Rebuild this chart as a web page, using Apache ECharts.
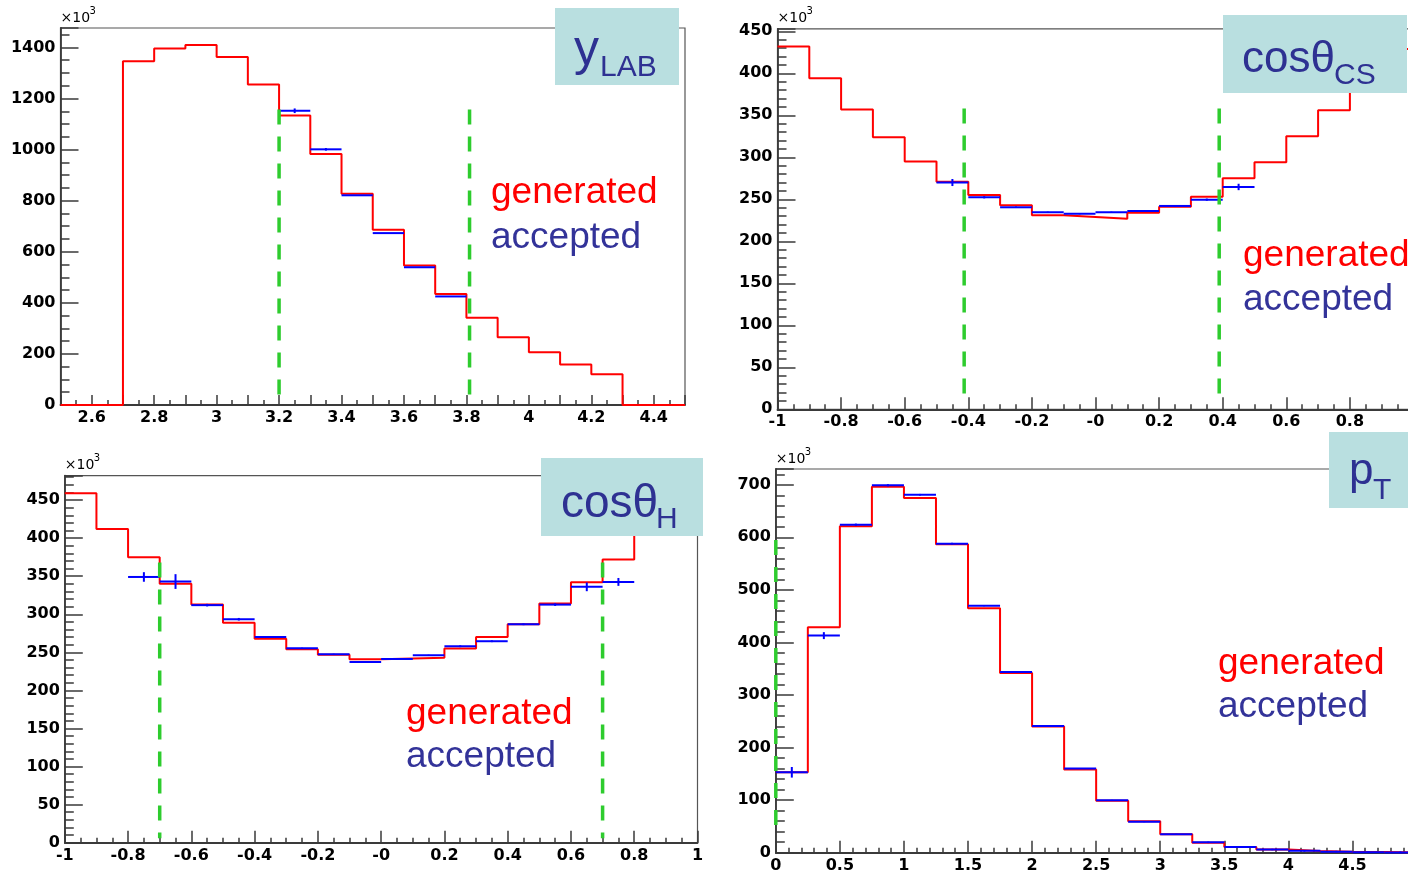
<!DOCTYPE html>
<html><head><meta charset="utf-8">
<script src="https://cdn.jsdelivr.net/npm/echarts@6/dist/echarts.min.js"></script>
<style>html,body{margin:0;padding:0;background:#fff}#c{width:1408px;height:873px}</style>
</head><body><div id="c"></div>
<script>
// ---------- DATA ----------
// Panel 1: y_LAB  (bins of 0.1 from 2.5)
const yLabStart = 2.5, yLabWidth = 0.1;
const yLabGenerated = [0, 0, 1346, 1396, 1409, 1362, 1255, 1133, 983, 827, 686, 546, 435, 342, 265, 207, 159, 120, 0, 0];
const yLabAccStart = 3.2;
const yLabAccepted = [1152, 1001, 821, 673, 539, 425];
const yLabAccErr = [13, 9, 5, 4, 4, 4];
const yLabCuts = [3.2, 3.81];
const yLabCutSpan = [18, 1157];

// Panel 2: cos theta CS (bins of 0.1 from -1)
const csStart = -1, csWidth = 0.1;
const csGenerated = [432, 394, 357, 324, 295, 271, 255, 243, 231, 229, 227, 234, 241, 253, 275, 294, 325, 356, 392, 429];
const csAccStart = -0.5;
const csAccepted = [270, 252.4, 240.5, 234.5, 232.9, 234.5, 236.1, 242.1, 249.6, 264.7];
const csAccErr = [5.4, 2.5, 2, 2, 2, 2, 2, 2, 2.5, 5];
const csCuts = [-0.413, 0.389];
const csCutSpan = [9, 358];

// Panel 3: cos theta H (bins of 0.1 from -1)
const hStart = -1, hWidth = 0.1;
const hGenerated = [459, 412, 375, 340, 313, 289, 268, 254, 247, 241, 242, 243, 255, 270, 287, 314, 342, 372, 411, 459];
const hAccStart = -0.8;
const hAccepted = [349, 343, 312, 293.5, 270, 255.4, 247.5, 237.4, 241.3, 246.2, 258, 264.6, 286.9, 312.7, 336, 342.5];
const hAccErr = [7.6, 11, 3, 3, 2.5, 2, 2, 2.5, 2, 2, 2.5, 2.5, 2.5, 3, 7, 6.5];
const hCuts = [-0.7, 0.7];
const hCutSpan = [6, 368];

// Panel 4: pT (bins of 0.25 from 0)
const ptStart = 0, ptWidth = 0.25;
const ptGenerated = [153, 429, 621, 696, 675, 587, 465, 342, 240, 158.5, 99, 60, 35, 19, 10.8, 6.3, 3.2, 1.9, 1.2, 0.6];
const ptAccStart = 0;
const ptAccepted = [153, 413, 624, 699, 681, 588, 470, 344, 241, 160.4, 99.6, 59, 35, 19.7, 10.8, 6, 3.5, 2, 1, 0.6];
const ptAccErr = [12, 8.5, 4, 4, 3.5, 3.5, 3, 2.5, 2, 1.5, 1, 1, 1, 0.5, 0.5, 0.5, 0.3, 0.3, 0.2, 0.2];
const ptCuts = [0];
const ptCutSpan = [35, 595];

// Titles
const titles = [
  { main: 'y', sub: 'LAB' },
  { main: 'cos\u03B8', sub: 'CS' },
  { main: 'cos\u03B8', sub: 'H' },
  { main: 'p', sub: 'T' }
];
const legendGen = 'generated', legendAcc = 'accepted';

// ---------- LAYOUT ----------
const panels = [
  { grid: { left: 60.5, top: 28, width: 624.5, height: 377 }, x: [2.5, 4.5, 0.1, 2], y: [0, 1476, 200, 4],
    gen: [yLabStart, yLabWidth, yLabGenerated], acc: [yLabAccStart, yLabWidth, yLabAccepted, yLabAccErr], cuts: [yLabCuts, yLabCutSpan],
    xfmt: v => { const k = Math.round(v * 10); return k % 2 ? '' : String(k / 10); },
    box: { x: 555, y: 8, w: 124, h: 77 }, mainPos: [574, 51.5, 50], subPos: [600, 67.5, 30],
    legend: [491, 193, 237.5] },
  { grid: { left: 777.5, top: 28.8, width: 636, height: 380.5 }, x: [-1, 1, 0.2, 4], y: [0, 453, 50, 5],
    gen: [csStart, csWidth, csGenerated], acc: [csAccStart, csWidth, csAccepted, csAccErr], cuts: [csCuts, csCutSpan],
    xfmt: v => Math.abs(v) < 1e-9 ? '-0' : String(Math.round(v * 10) / 10),
    box: { x: 1223, y: 15, w: 184, h: 78 }, mainPos: [1242, 60, 44], subPos: [1334, 75.5, 30],
    legend: [1243, 256, 300] },
  { grid: { left: 64.8, top: 475.7, width: 632.7, height: 367 }, x: [-1, 1, 0.2, 4], y: [0, 482, 50, 5],
    gen: [hStart, hWidth, hGenerated], acc: [hAccStart, hWidth, hAccepted, hAccErr], cuts: [hCuts, hCutSpan],
    xfmt: v => Math.abs(v) < 1e-9 ? '-0' : String(Math.round(v * 10) / 10),
    box: { x: 541, y: 458, w: 162, h: 78 }, mainPos: [561, 504.5, 46], subPos: [656, 520, 30],
    legend: [406, 713.5, 756.5] },
  { grid: { left: 775.8, top: 469, width: 640.7, height: 383.7 }, x: [0, 5, 0.5, 5], y: [0, 730, 100, 5],
    gen: [ptStart, ptWidth, ptGenerated], acc: [ptAccStart, ptWidth, ptAccepted, ptAccErr], cuts: [ptCuts, ptCutSpan],
    xfmt: v => String(Math.round(v * 10) / 10),
    box: { x: 1329, y: 432, w: 80, h: 76 }, mainPos: [1349, 472, 44], subPos: [1373, 491, 30],
    legend: [1218, 663.5, 706.5] }
];

const AX_COLOR = '#3a3a3a';
const labelFont = { fontFamily: 'DejaVu Sans', fontWeight: 'bold', fontSize: 16, color: '#000' };

const option = { animation: false, backgroundColor: '#ffffff', grid: [], xAxis: [], yAxis: [], series: [], graphic: [] };

function stepData(start, width, vals) {
  const d = vals.map((v, i) => [start + i * width, v]);
  d.push([start + vals.length * width, vals[vals.length - 1]]);
  return d;
}

panels.forEach((p, i) => {
  option.grid.push(Object.assign({ show: true, borderColor: '#555', borderWidth: 1.2, backgroundColor: 'transparent', containLabel: false, outerBoundsMode: 'none' }, p.grid));
  option.xAxis.push({
    type: 'value', gridIndex: i, min: p.x[0], max: p.x[1], interval: p.x[2],
    axisLine: { show: true, onZero: false, lineStyle: { color: AX_COLOR, width: 1.8 } },
    axisTick: { show: true, inside: true, length: i === 0 ? 10 : 12, lineStyle: { color: AX_COLOR, width: 1.5 } },
    minorTick: { show: true, splitNumber: p.x[3], length: 5, lineStyle: { color: AX_COLOR, width: 1.5 } },
    splitLine: { show: false }, minorSplitLine: { show: false },
    axisLabel: Object.assign({ margin: 5, formatter: p.xfmt, showMinLabel: true, showMaxLabel: true, hideOverlap: false }, labelFont)
  });
  option.yAxis.push({
    type: 'value', gridIndex: i, min: p.y[0], max: p.y[1], interval: p.y[2],
    axisLine: { show: true, onZero: false, lineStyle: { color: AX_COLOR, width: 1.8 } },
    axisTick: { show: true, inside: true, length: 18, lineStyle: { color: AX_COLOR, width: 1.5 } },
    minorTick: { show: true, splitNumber: p.y[3], length: 9, lineStyle: { color: AX_COLOR, width: 1.5 } },
    splitLine: { show: false }, minorSplitLine: { show: false },
    axisLabel: Object.assign({ margin: 5, showMinLabel: true, showMaxLabel: true, hideOverlap: false,
      formatter: v => { const r = v / p.y[2]; return Math.abs(r - Math.round(r)) < 1e-6 ? String(Math.round(v)) : ''; } }, labelFont)
  });
  // generated (red step histogram)
  option.series.push({
    type: 'line', xAxisIndex: i, yAxisIndex: i, step: 'end', symbol: 'none', clip: false, z: 3,
    lineStyle: { color: '#ff0000', width: 2 }, data: stepData(p.gen[0], p.gen[1], p.gen[2])
  });
  // accepted (blue points with x-width and y errors)
  const accData = p.acc[2].map((v, k) => [p.acc[0] + k * p.acc[1], p.acc[0] + (k + 1) * p.acc[1], v, p.acc[3][k]]);
  option.series.push({
    type: 'custom', xAxisIndex: i, yAxisIndex: i, z: 4, clip: false,
    encode: { x: [0, 1], y: 2 },
    data: accData,
    renderItem: (params, api) => {
      const x0 = api.value(0), x1 = api.value(1), y = api.value(2), e = api.value(3);
      const a = api.coord([x0, y]), b = api.coord([x1, y]);
      const c = api.coord([(x0 + x1) / 2, y - e]), d = api.coord([(x0 + x1) / 2, y + e]);
      const st = { stroke: '#0000ff', lineWidth: 2 };
      return { type: 'group', children: [
        { type: 'line', shape: { x1: a[0], y1: a[1], x2: b[0], y2: b[1] }, style: st },
        { type: 'line', shape: { x1: c[0], y1: c[1] - 1, x2: d[0], y2: d[1] + 1 }, style: st }
      ] };
    }
  });
  // cut lines (green dashed)
  p.cuts[0].forEach(cx => {
    option.series.push({
      type: 'line', xAxisIndex: i, yAxisIndex: i, symbol: 'none', clip: false, z: 5,
      lineStyle: { color: '#2ecc2e', width: 3.5, type: [15, 12] },
      data: [[cx, p.cuts[1][1]], [cx, p.cuts[1][0]]]
    });
  });
  // x10^3 labels
  option.graphic.push({ type: 'text', left: p.grid.left, top: p.grid.top - 17, z: 50,
    style: { text: '\u00D710', font: '14px "DejaVu Sans"', fill: '#000' } });
  option.graphic.push({ type: 'text', left: p.grid.left + 29, top: p.grid.top - 22, z: 50,
    style: { text: '3', font: '10px "DejaVu Sans"', fill: '#000' } });
  // title box
  option.graphic.push({ type: 'rect', shape: { x: p.box.x, y: p.box.y, width: p.box.w, height: p.box.h }, z: 60,
    style: { fill: '#b9dfe0' } });
  option.graphic.push({ type: 'text', x: p.mainPos[0], y: p.mainPos[1], z: 61,
    style: { text: titles[i].main, fontFamily: 'Liberation Sans', fontSize: p.mainPos[2], fill: '#2e3192', verticalAlign: 'middle', align: 'left' } });
  option.graphic.push({ type: 'text', x: p.subPos[0], y: p.subPos[1], z: 61,
    style: { text: titles[i].sub, fontFamily: 'Liberation Sans', fontSize: p.subPos[2], fill: '#2e3192', verticalAlign: 'middle', align: 'left' } });
  // legend texts
  option.graphic.push({ type: 'text', x: p.legend[0], y: p.legend[1], z: 62,
    style: { text: legendGen, fontFamily: 'Liberation Sans', fontSize: 37, fill: '#ff0000', verticalAlign: 'middle', align: 'left' } });
  option.graphic.push({ type: 'text', x: p.legend[0], y: p.legend[2], z: 62,
    style: { text: legendAcc, fontFamily: 'Liberation Sans', fontSize: 37, fill: '#333399', verticalAlign: 'middle', align: 'left' } });
});

const chart = echarts.init(document.getElementById('c'), null, { renderer: 'canvas' });
chart.setOption(option);
</script>
</body></html>
